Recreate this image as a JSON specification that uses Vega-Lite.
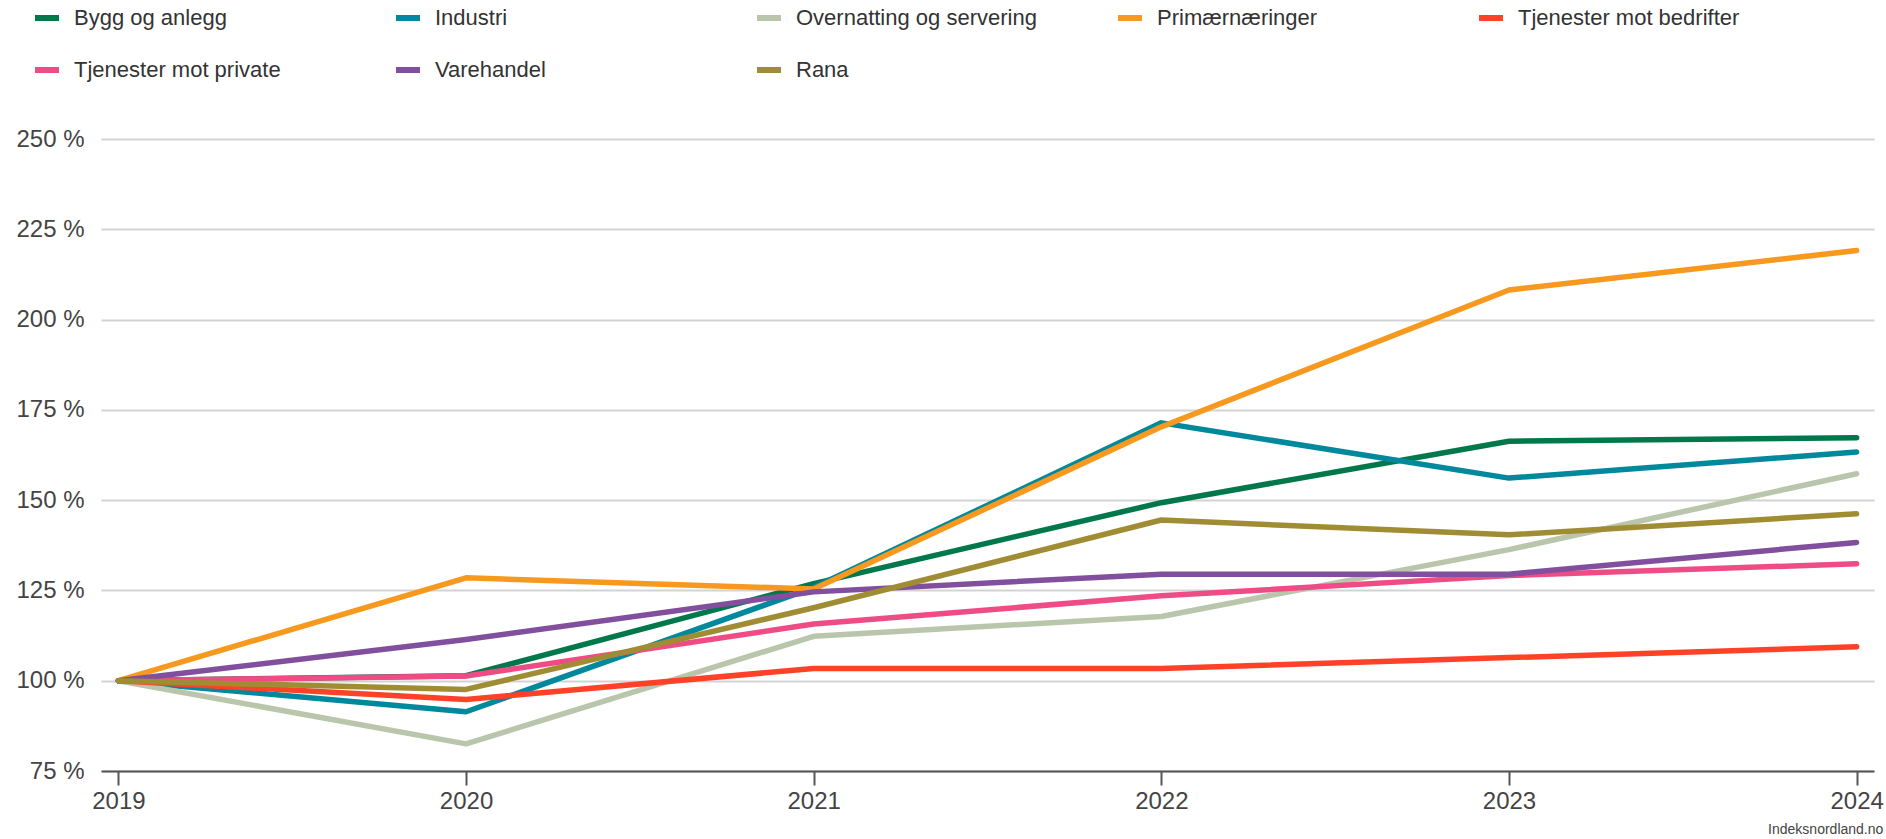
{
  "$schema": "https://vega.github.io/schema/vega-lite/v6.json",
  "autosize": {"type": "none"},
  "width": 1773,
  "height": 632,
  "padding": {"left": 101, "top": 139, "right": 12, "bottom": 68},
  "background": "white",
  "title": {"text": "Indeksnordland.no", "orient": "bottom", "anchor": "end", "fontSize": 14, "fontWeight": "normal", "color": "#444444", "font": "Liberation Sans Narrow, Liberation Sans, Arial", "offset": 10},
  "config": {
    "view": {"stroke": null},
    "font": "Liberation Sans, Arial, sans-serif"
  },
  "data": {
    "values": [
      {"year": "2019", "series": "Bygg og anlegg", "value": 100},
      {"year": "2020", "series": "Bygg og anlegg", "value": 101.4},
      {"year": "2021", "series": "Bygg og anlegg", "value": 126.9},
      {"year": "2022", "series": "Bygg og anlegg", "value": 149.3},
      {"year": "2023", "series": "Bygg og anlegg", "value": 166.3},
      {"year": "2024", "series": "Bygg og anlegg", "value": 167.3},
      {"year": "2019", "series": "Industri", "value": 100},
      {"year": "2020", "series": "Industri", "value": 91.4},
      {"year": "2021", "series": "Industri", "value": 125.8},
      {"year": "2022", "series": "Industri", "value": 171.4},
      {"year": "2023", "series": "Industri", "value": 156.1},
      {"year": "2024", "series": "Industri", "value": 163.3},
      {"year": "2019", "series": "Overnatting og servering", "value": 100},
      {"year": "2020", "series": "Overnatting og servering", "value": 82.5},
      {"year": "2021", "series": "Overnatting og servering", "value": 112.3},
      {"year": "2022", "series": "Overnatting og servering", "value": 117.8},
      {"year": "2023", "series": "Overnatting og servering", "value": 136.3},
      {"year": "2024", "series": "Overnatting og servering", "value": 157.3},
      {"year": "2019", "series": "Primærnæringer", "value": 100},
      {"year": "2020", "series": "Primærnæringer", "value": 128.5},
      {"year": "2021", "series": "Primærnæringer", "value": 125.4},
      {"year": "2022", "series": "Primærnæringer", "value": 170.3},
      {"year": "2023", "series": "Primærnæringer", "value": 208.2},
      {"year": "2024", "series": "Primærnæringer", "value": 219.1},
      {"year": "2019", "series": "Tjenester mot bedrifter", "value": 100},
      {"year": "2020", "series": "Tjenester mot bedrifter", "value": 94.8},
      {"year": "2021", "series": "Tjenester mot bedrifter", "value": 103.4},
      {"year": "2022", "series": "Tjenester mot bedrifter", "value": 103.4},
      {"year": "2023", "series": "Tjenester mot bedrifter", "value": 106.4},
      {"year": "2024", "series": "Tjenester mot bedrifter", "value": 109.4},
      {"year": "2019", "series": "Tjenester mot private", "value": 100},
      {"year": "2020", "series": "Tjenester mot private", "value": 101.3},
      {"year": "2021", "series": "Tjenester mot private", "value": 115.7},
      {"year": "2022", "series": "Tjenester mot private", "value": 123.5},
      {"year": "2023", "series": "Tjenester mot private", "value": 129.1},
      {"year": "2024", "series": "Tjenester mot private", "value": 132.4},
      {"year": "2019", "series": "Varehandel", "value": 100},
      {"year": "2020", "series": "Varehandel", "value": 111.4},
      {"year": "2021", "series": "Varehandel", "value": 124.6},
      {"year": "2022", "series": "Varehandel", "value": 129.5},
      {"year": "2023", "series": "Varehandel", "value": 129.5},
      {"year": "2024", "series": "Varehandel", "value": 138.3},
      {"year": "2019", "series": "Rana", "value": 100},
      {"year": "2020", "series": "Rana", "value": 97.6},
      {"year": "2021", "series": "Rana", "value": 120.2},
      {"year": "2022", "series": "Rana", "value": 144.5},
      {"year": "2023", "series": "Rana", "value": 140.4},
      {"year": "2024", "series": "Rana", "value": 146.2}
    ]
  },
  "mark": {"type": "line", "strokeWidth": 5.5, "strokeCap": "round", "strokeJoin": "round"},
  "encoding": {
    "x": {
      "field": "year", "type": "ordinal",
      "scale": {"type": "point", "padding": 0.05},
      "axis": {
        "title": null, "labelAngle": 0, "grid": false,
        "domainColor": "#555555", "domainWidth": 2,
        "tickColor": "#555555", "tickWidth": 2, "tickSize": 14,
        "labelFont": "Liberation Sans Narrow, Liberation Sans, Arial",
        "labelFontSize": 24, "labelColor": "#444444", "labelPadding": 4,
        "labelFlush": false
      }
    },
    "y": {
      "field": "value", "type": "quantitative",
      "scale": {"domain": [75, 250], "nice": false, "zero": false},
      "axis": {
        "title": null, "values": [75, 100, 125, 150, 175, 200, 225, 250],
        "labelExpr": "datum.value + ' %'",
        "domain": false, "ticks": false,
        "gridColor": "#d3d3d3", "gridWidth": 2,
        "labelFontSize": 24, "labelColor": "#444444", "labelPadding": 17
      }
    },
    "color": {
      "field": "series", "type": "nominal",
      "scale": {
        "domain": ["Bygg og anlegg", "Industri", "Overnatting og servering", "Primærnæringer", "Tjenester mot bedrifter", "Tjenester mot private", "Varehandel", "Rana"],
        "range": ["#00784b", "#00889c", "#b9c6ab", "#f7991f", "#ff4127", "#ef4c85", "#814f9e", "#a08d33"]
      },
      "legend": {
        "title": null, "orient": "none", "legendX": -69, "legendY": -136,
        "direction": "horizontal", "columns": 5, "gridAlign": "all",
        "symbolType": "stroke", "symbolStrokeWidth": 6, "symbolSize": 576,
        "labelFont": "Liberation Sans Narrow, Liberation Sans, Arial",
        "labelFontSize": 22, "labelColor": "#333333", "labelOffset": 12,
        "columnPadding": 69, "rowPadding": 25, "labelLimit": 400
      }
    }
  }
}
